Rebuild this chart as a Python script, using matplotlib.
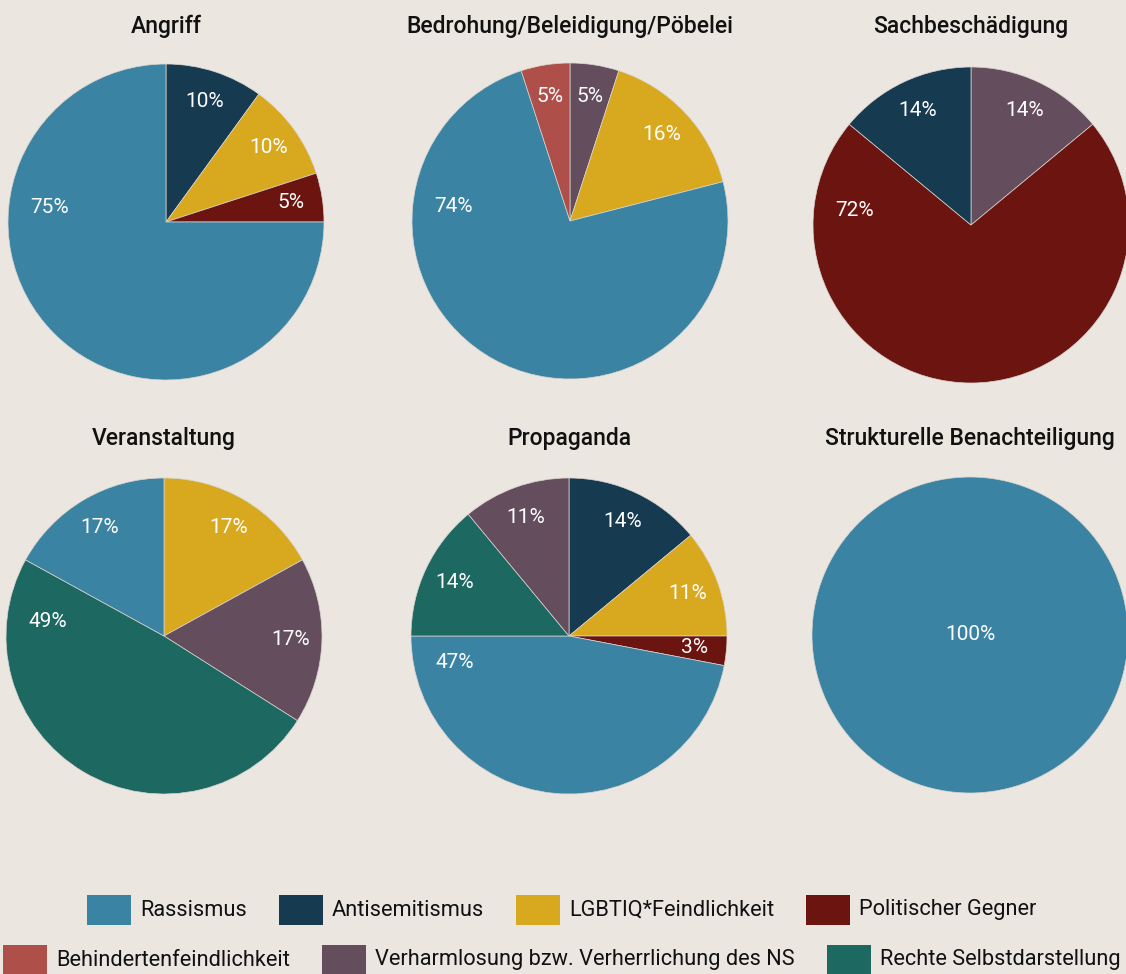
import matplotlib.pyplot as plt
from matplotlib.patches import Rectangle
import numpy as np

plt.rcParams['font.family'] = ['Roboto', 'DejaVu Sans']

W, H = 1126, 974
bg = '#ebe6e0'

categories = ['Rassismus', 'Antisemitismus', 'LGBTIQ*Feindlichkeit', 'Politischer Gegner',
              'Behindertenfeindlichkeit', 'Verharmlosung bzw. Verherrlichung des NS',
              'Rechte Selbstdarstellung']
colors = {'Rassismus': '#3b83a3', 'Antisemitismus': '#163a4f', 'LGBTIQ*Feindlichkeit': '#d8a91f',
          'Politischer Gegner': '#6c1510', 'Behindertenfeindlichkeit': '#ae4f4a',
          'Verharmlosung bzw. Verherrlichung des NS': '#644d5c',
          'Rechte Selbstdarstellung': '#1e6862'}

titles = ['Angriff', 'Bedrohung/Beleidigung/Pöbelei', 'Sachbeschädigung',
          'Veranstaltung', 'Propaganda', 'Strukturelle Benachteiligung']

# clockwise from 12 o'clock
angriff_cats = ['Antisemitismus', 'LGBTIQ*Feindlichkeit', 'Politischer Gegner', 'Rassismus']
angriff_vals = [10, 10, 5, 75]
bedrohung_cats = ['Verharmlosung bzw. Verherrlichung des NS', 'LGBTIQ*Feindlichkeit',
                  'Rassismus', 'Behindertenfeindlichkeit']
bedrohung_vals = [5, 16, 74, 5]
sach_cats = ['Verharmlosung bzw. Verherrlichung des NS', 'Politischer Gegner', 'Antisemitismus']
sach_vals = [14, 72, 14]
veranst_cats = ['LGBTIQ*Feindlichkeit', 'Verharmlosung bzw. Verherrlichung des NS',
                'Rechte Selbstdarstellung', 'Rassismus']
veranst_vals = [17, 17, 49, 17]
propaganda_cats = ['Antisemitismus', 'LGBTIQ*Feindlichkeit', 'Politischer Gegner', 'Rassismus',
                   'Rechte Selbstdarstellung', 'Verharmlosung bzw. Verherrlichung des NS']
propaganda_vals = [14, 11, 3, 47, 14, 11]
strukt_cats = ['Rassismus']
strukt_vals = [100]

pies = [(angriff_cats, angriff_vals), (bedrohung_cats, bedrohung_vals), (sach_cats, sach_vals),
        (veranst_cats, veranst_vals), (propaganda_cats, propaganda_vals), (strukt_cats, strukt_vals)]

# pixel centres of the pies
centres = [(166, 222), (570, 221), (971, 225), (164, 636), (569, 636), (970, 635)]
title_y = [26, 26, 26, 438, 438, 438]
R = 158

fig = plt.figure(figsize=(W / 100, H / 100), dpi=100)
fig.patch.set_facecolor(bg)

for i, (cats, vals) in enumerate(pies):
    cx, cy = centres[i]
    ax = fig.add_axes([(cx - R) / W, (H - cy - R) / H, 2 * R / W, 2 * R / H])
    ax.pie(vals, colors=[colors[c] for c in cats], startangle=90, counterclock=False,
           wedgeprops=dict(edgecolor='#d9d4cf', linewidth=0.5))
    ax.set_xlim(-1, 1)
    ax.set_ylim(-1, 1)
    ax.set_aspect('equal')
    ax.axis('off')

    # percentage labels
    total = float(sum(vals))
    start = 0.0
    for v in vals:
        span = v / total * 360
        end = start + span
        if span >= 359:
            x, y = 0, 0
        else:
            if v / total > 0.4:
                a = min(277, end - 13)
                d = 0.74
            else:
                a = start + span / 2
                d = 0.8
            x = d * np.sin(np.radians(a))
            y = d * np.cos(np.radians(a))
        ax.text(x, y, '{}%'.format(v), color='white', fontsize=15, ha='center', va='center')
        start = end

    fig.text(cx / W, 1 - title_y[i] / H, titles[i], fontsize=16.5, fontweight='medium',
             ha='center', va='center', color='#111111')

# legend drawn by hand, two centred rows
rows = [categories[:4], categories[4:]]
rows_y = [910, 960]
pw, ph, pgap, igap = 44, 30, 9, 32
fig.canvas.draw()
renderer = fig.canvas.get_renderer()
for row, ry in zip(rows, rows_y):
    items = []
    for c in row:
        t = fig.text(0, 1 - ry / H, c, fontsize=15.7, ha='left', va='center', color='#111111')
        tw = t.get_window_extent(renderer).width
        items.append((c, t, tw))
    total_w = sum(pw + pgap + tw for _, _, tw in items) + igap * (len(items) - 1)
    x = 562 - total_w / 2
    for c, t, tw in items:
        fig.patches.append(Rectangle((x / W, 1 - (ry + ph / 2) / H), pw / W, ph / H,
                                     transform=fig.transFigure, facecolor=colors[c],
                                     edgecolor='none'))
        t.set_x((x + pw + pgap) / W)
        x += pw + pgap + tw + igap

plt.savefig('out.png', dpi=100, facecolor=bg)
